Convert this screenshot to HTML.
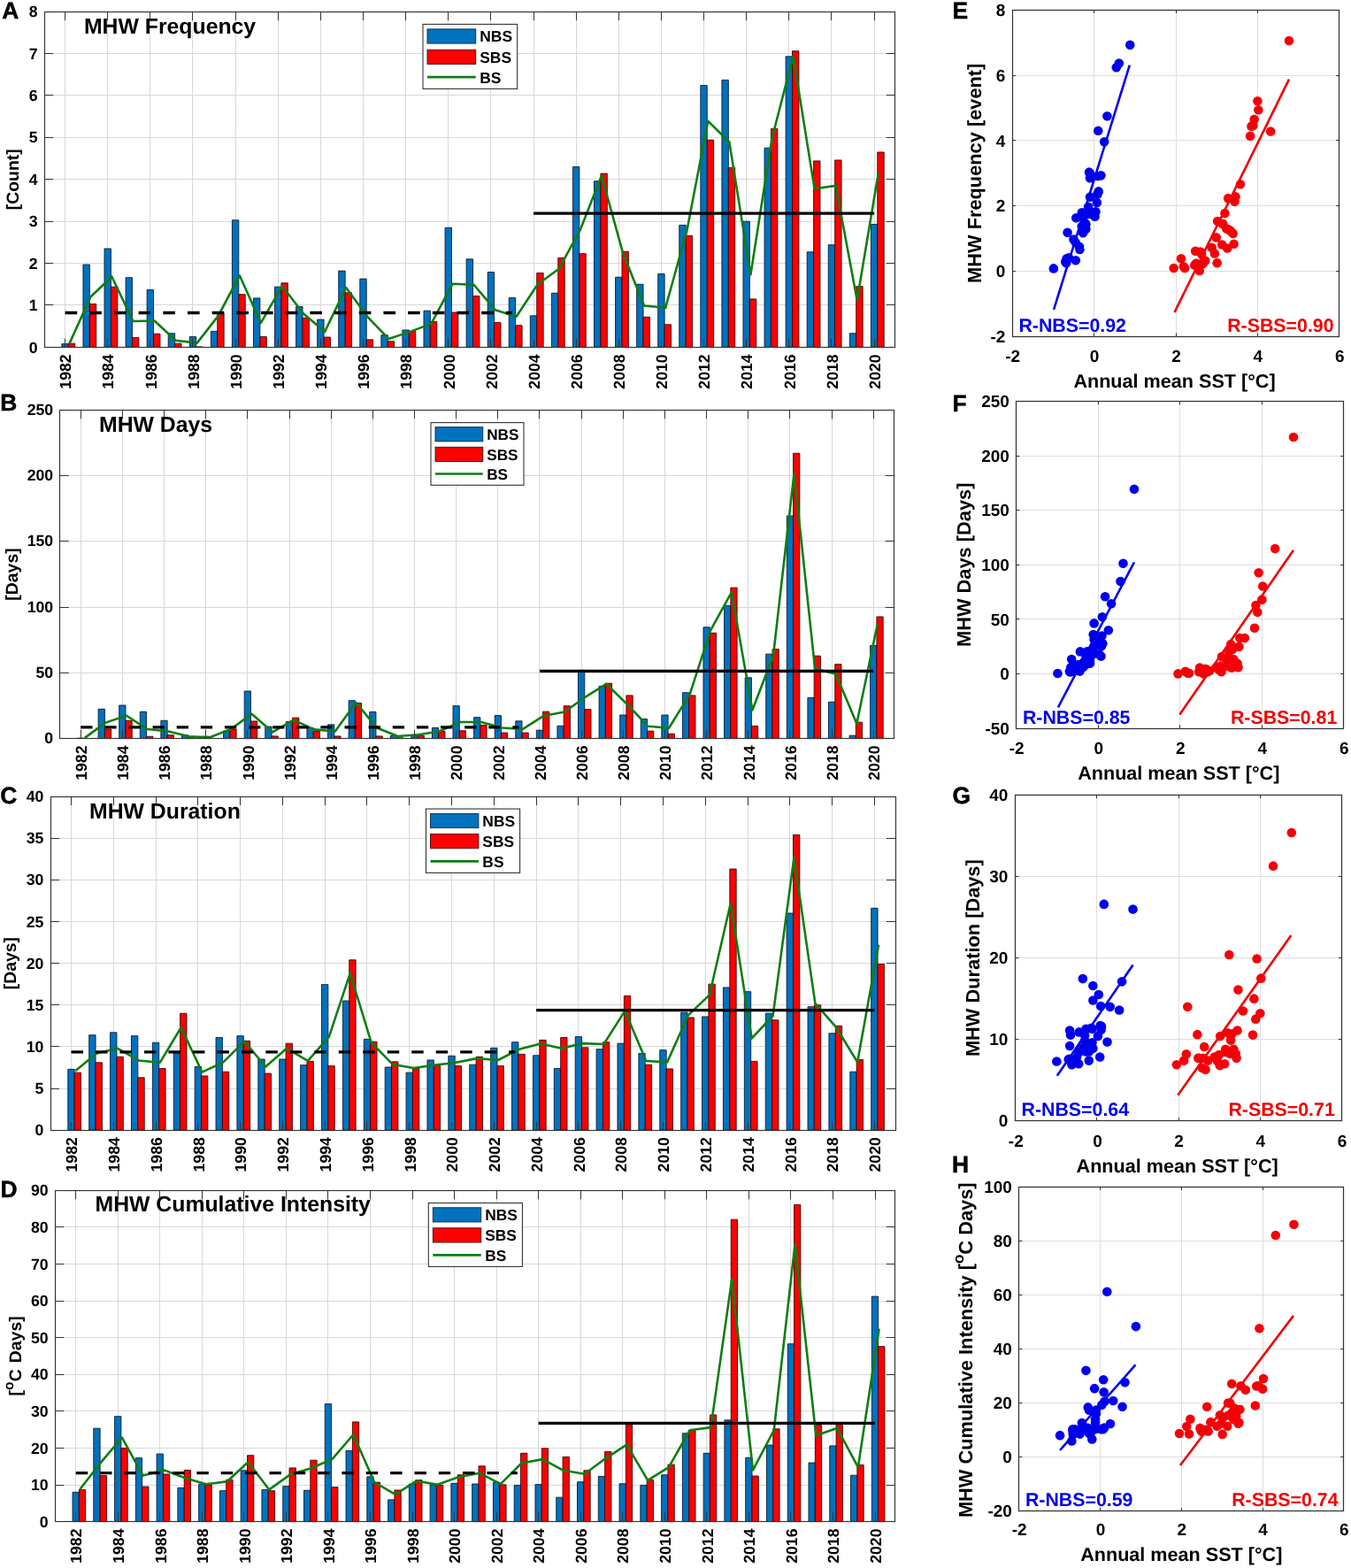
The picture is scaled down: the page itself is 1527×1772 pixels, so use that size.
<!DOCTYPE html>
<html lang="en">
<head>
<meta charset="utf-8">
<title>Marine heatwave metrics in the Bering Sea</title>
<style>
html,body{margin:0;padding:0;background:#fff;}
body{width:1527px;height:1772px;overflow:hidden;}
svg{display:block;font-family:'Liberation Sans', Arial, Helvetica, sans-serif;}
svg text{white-space:pre;}
</style>
</head>
<body>
<svg width="1527" height="1772" viewBox="0 0 1527 1772" shape-rendering="geometricPrecision" text-rendering="geometricPrecision">
<rect width="1527" height="1772" fill="#fff"/>
<g>
<rect x="50.2" y="13.1" width="961.6" height="379.3" fill="#fff"/>
<path d="M73.5 13.1V392.4M121.5 13.1V392.4M169.5 13.1V392.4M217.5 13.1V392.4M266.5 13.1V392.4M314.5 13.1V392.4M362.5 13.1V392.4M410.5 13.1V392.4M458.5 13.1V392.4M506.5 13.1V392.4M554.5 13.1V392.4M603.5 13.1V392.4M651.5 13.1V392.4M699.5 13.1V392.4M747.5 13.1V392.4M795.5 13.1V392.4M843.5 13.1V392.4M891.5 13.1V392.4M939.5 13.1V392.4M988.5 13.1V392.4M50.2 344.5H1011.8M50.2 297.5H1011.8M50.2 250.5H1011.8M50.2 202.5H1011.8M50.2 155.5H1011.8M50.2 107.5H1011.8M50.2 60.5H1011.8" stroke="#d8d8d8" stroke-width="1" fill="none"/>
<path d="M69.87 392.4V388.61H77.28V392.4ZM93.94 392.4V299H101.35V392.4ZM118 392.4V280.98H125.41V392.4ZM142.07 392.4V313.7H149.48V392.4ZM166.13 392.4V327.44H173.55V392.4ZM190.2 392.4V376.75H197.61V392.4ZM214.26 392.4V380.55H221.68V392.4ZM238.33 392.4V374.38H245.74V392.4ZM262.4 392.4V248.74H269.81V392.4ZM286.46 392.4V336.93H293.87V392.4ZM310.53 392.4V324.13H317.94V392.4ZM334.59 392.4V346.41H342.01V392.4ZM358.66 392.4V361.11H366.07V392.4ZM382.73 392.4V306.11H390.14V392.4ZM406.79 392.4V315.12H414.2V392.4ZM430.86 392.4V378.65H438.27V392.4ZM454.92 392.4V372.96H462.33V392.4ZM478.99 392.4V351.15H486.4V392.4ZM503.05 392.4V257.27H510.47V392.4ZM527.12 392.4V292.83H534.53V392.4ZM551.19 392.4V307.53H558.6V392.4ZM575.25 392.4V336.45H582.66V392.4ZM599.32 392.4V356.84H606.73V392.4ZM623.38 392.4V331.24H630.8V392.4ZM647.45 392.4V188.53H654.86V392.4ZM671.51 392.4V204.65H678.93V392.4ZM695.58 392.4V313.22H702.99V392.4ZM719.65 392.4V321.28H727.06V392.4ZM743.71 392.4V309.43H751.12V392.4ZM767.78 392.4V254.43H775.19V392.4ZM791.84 392.4V96.55H799.26V392.4ZM815.91 392.4V90.38H823.32V392.4ZM839.98 392.4V250.16H847.39V392.4ZM864.04 392.4V167.19H871.45V392.4ZM888.11 392.4V63.83H895.52V392.4ZM912.17 392.4V284.77H919.58V392.4ZM936.24 392.4V276.71H943.65V392.4ZM960.3 392.4V376.75H967.72V392.4ZM984.37 392.4V253.48H991.78V392.4Z" fill="#0072BD" stroke="#0b1a33" stroke-width="0.9" stroke-linejoin="miter"/>
<path d="M77.28 392.4V388.13H84.69V392.4ZM101.35 392.4V343.57H108.76V392.4ZM125.41 392.4V324.13H132.83V392.4ZM149.48 392.4V381.5H156.89V392.4ZM173.55 392.4V377.23H180.96V392.4ZM197.61 392.4V388.13H205.02V392.4ZM221.68 392.4V391.93H229.09V392.4ZM245.74 392.4V354H253.15V392.4ZM269.81 392.4V332.66H277.22V392.4ZM293.87 392.4V380.55H301.29V392.4ZM317.94 392.4V319.86H325.35V392.4ZM342.01 392.4V359.21H349.42V392.4ZM366.07 392.4V381.02H373.48V392.4ZM390.14 392.4V330.76H397.55V392.4ZM414.2 392.4V383.87H421.62V392.4ZM438.27 392.4V385.76H445.68V392.4ZM462.33 392.4V374.38H469.75V392.4ZM486.4 392.4V363.48H493.81V392.4ZM510.47 392.4V353.05H517.88V392.4ZM534.53 392.4V334.56H541.94V392.4ZM558.6 392.4V364.43H566.01V392.4ZM582.66 392.4V367.75H590.08V392.4ZM606.73 392.4V308.48H614.14V392.4ZM630.8 392.4V291.41H638.21V392.4ZM654.86 392.4V286.67H662.27V392.4ZM678.93 392.4V196.11H686.34V392.4ZM702.99 392.4V284.3H710.4V392.4ZM727.06 392.4V358.26H734.47V392.4ZM751.12 392.4V366.8H758.54V392.4ZM775.19 392.4V266.28H782.6V392.4ZM799.26 392.4V158.18H806.67V392.4ZM823.32 392.4V189.47H830.73V392.4ZM847.39 392.4V337.88H854.8V392.4ZM871.45 392.4V145.38H878.87V392.4ZM895.52 392.4V57.67H902.93V392.4ZM919.58 392.4V181.89H927V392.4ZM943.65 392.4V180.94H951.06V392.4ZM967.72 392.4V323.65H975.13V392.4ZM991.78 392.4V171.93H999.19V392.4Z" fill="#FF0000" stroke="#3a0505" stroke-width="0.9" stroke-linejoin="miter"/>
<polyline points="78.29,388.61 102.36,335.5 126.42,312.75 150.49,363 174.56,362.53 198.62,384.81 222.69,387.66 246.75,356.84 270.82,311.32 294.88,364.9 318.95,323.18 343.02,354.47 367.08,374.86 391.15,325.07 415.21,357.79 439.28,382.92 463.35,374.86 487.41,365.85 511.48,320.81 535.54,321.76 559.61,350.2 583.67,357.79 607.74,321.28 631.81,303.74 655.87,259.64 679.94,198.48 704,285.72 728.07,345.46 752.13,347.83 776.2,261.54 800.27,136.85 824.33,160.55 848.4,310.38 872.46,156.76 896.53,63.36 920.6,213.18 944.66,209.86 968.73,339.3 992.79,195.64" fill="none" stroke="#0E7E12" stroke-width="2.6" stroke-linejoin="round"/>
<path d="M73.6 353.52H578.98" stroke="#000" stroke-width="3.3" stroke-dasharray="13.6 14.08" fill="none"/>
<path d="M603.05 241.15H988.1" stroke="#000" stroke-width="3.3" fill="none"/>
<path d="M73.5 392.4v-10M73.5 13.1v10M121.5 392.4v-10M121.5 13.1v10M169.5 392.4v-10M169.5 13.1v10M217.5 392.4v-10M217.5 13.1v10M266.5 392.4v-10M266.5 13.1v10M314.5 392.4v-10M314.5 13.1v10M362.5 392.4v-10M362.5 13.1v10M410.5 392.4v-10M410.5 13.1v10M458.5 392.4v-10M458.5 13.1v10M506.5 392.4v-10M506.5 13.1v10M554.5 392.4v-10M554.5 13.1v10M603.5 392.4v-10M603.5 13.1v10M651.5 392.4v-10M651.5 13.1v10M699.5 392.4v-10M699.5 13.1v10M747.5 392.4v-10M747.5 13.1v10M795.5 392.4v-10M795.5 13.1v10M843.5 392.4v-10M843.5 13.1v10M891.5 392.4v-10M891.5 13.1v10M939.5 392.4v-10M939.5 13.1v10M988.5 392.4v-10M988.5 13.1v10M50.2 344.5h10M1011.8 344.5h-10M50.2 297.5h10M1011.8 297.5h-10M50.2 250.5h10M1011.8 250.5h-10M50.2 202.5h10M1011.8 202.5h-10M50.2 155.5h10M1011.8 155.5h-10M50.2 107.5h10M1011.8 107.5h-10M50.2 60.5h10M1011.8 60.5h-10" stroke="#333333" stroke-width="1" fill="none"/>
<rect x="50.5" y="13.5" width="961" height="379" fill="none" stroke="#333333" stroke-width="1.15"/>
<text x="42.6" y="398.54" font-size="17.7" font-weight="bold" text-anchor="end" fill="#000">0</text>
<text x="42.6" y="351.12" font-size="17.7" font-weight="bold" text-anchor="end" fill="#000">1</text>
<text x="42.6" y="303.71" font-size="17.7" font-weight="bold" text-anchor="end" fill="#000">2</text>
<text x="42.6" y="256.3" font-size="17.7" font-weight="bold" text-anchor="end" fill="#000">3</text>
<text x="42.6" y="208.89" font-size="17.7" font-weight="bold" text-anchor="end" fill="#000">4</text>
<text x="42.6" y="161.47" font-size="17.7" font-weight="bold" text-anchor="end" fill="#000">5</text>
<text x="42.6" y="114.06" font-size="17.7" font-weight="bold" text-anchor="end" fill="#000">6</text>
<text x="42.6" y="66.65" font-size="17.7" font-weight="bold" text-anchor="end" fill="#000">7</text>
<text x="42.6" y="19.24" font-size="17.7" font-weight="bold" text-anchor="end" fill="#000">8</text>
<text x="80.34" y="400.3" font-size="17.7" font-weight="bold" text-anchor="end" fill="#000" transform="rotate(-90 80.34 400.3)">1982</text>
<text x="128.47" y="400.3" font-size="17.7" font-weight="bold" text-anchor="end" fill="#000" transform="rotate(-90 128.47 400.3)">1984</text>
<text x="176.6" y="400.3" font-size="17.7" font-weight="bold" text-anchor="end" fill="#000" transform="rotate(-90 176.6 400.3)">1986</text>
<text x="224.73" y="400.3" font-size="17.7" font-weight="bold" text-anchor="end" fill="#000" transform="rotate(-90 224.73 400.3)">1988</text>
<text x="272.86" y="400.3" font-size="17.7" font-weight="bold" text-anchor="end" fill="#000" transform="rotate(-90 272.86 400.3)">1990</text>
<text x="320.99" y="400.3" font-size="17.7" font-weight="bold" text-anchor="end" fill="#000" transform="rotate(-90 320.99 400.3)">1992</text>
<text x="369.13" y="400.3" font-size="17.7" font-weight="bold" text-anchor="end" fill="#000" transform="rotate(-90 369.13 400.3)">1994</text>
<text x="417.26" y="400.3" font-size="17.7" font-weight="bold" text-anchor="end" fill="#000" transform="rotate(-90 417.26 400.3)">1996</text>
<text x="465.39" y="400.3" font-size="17.7" font-weight="bold" text-anchor="end" fill="#000" transform="rotate(-90 465.39 400.3)">1998</text>
<text x="513.52" y="400.3" font-size="17.7" font-weight="bold" text-anchor="end" fill="#000" transform="rotate(-90 513.52 400.3)">2000</text>
<text x="561.65" y="400.3" font-size="17.7" font-weight="bold" text-anchor="end" fill="#000" transform="rotate(-90 561.65 400.3)">2002</text>
<text x="609.78" y="400.3" font-size="17.7" font-weight="bold" text-anchor="end" fill="#000" transform="rotate(-90 609.78 400.3)">2004</text>
<text x="657.92" y="400.3" font-size="17.7" font-weight="bold" text-anchor="end" fill="#000" transform="rotate(-90 657.92 400.3)">2006</text>
<text x="706.05" y="400.3" font-size="17.7" font-weight="bold" text-anchor="end" fill="#000" transform="rotate(-90 706.05 400.3)">2008</text>
<text x="754.18" y="400.3" font-size="17.7" font-weight="bold" text-anchor="end" fill="#000" transform="rotate(-90 754.18 400.3)">2010</text>
<text x="802.31" y="400.3" font-size="17.7" font-weight="bold" text-anchor="end" fill="#000" transform="rotate(-90 802.31 400.3)">2012</text>
<text x="850.44" y="400.3" font-size="17.7" font-weight="bold" text-anchor="end" fill="#000" transform="rotate(-90 850.44 400.3)">2014</text>
<text x="898.57" y="400.3" font-size="17.7" font-weight="bold" text-anchor="end" fill="#000" transform="rotate(-90 898.57 400.3)">2016</text>
<text x="946.71" y="400.3" font-size="17.7" font-weight="bold" text-anchor="end" fill="#000" transform="rotate(-90 946.71 400.3)">2018</text>
<text x="994.84" y="400.3" font-size="17.7" font-weight="bold" text-anchor="end" fill="#000" transform="rotate(-90 994.84 400.3)">2020</text>
<text x="21.3" y="202.75" font-size="19.4" font-weight="bold" text-anchor="middle" fill="#000" transform="rotate(-90 21.3 202.75)">[Count]</text>
<text x="94.9" y="38.3" font-size="24.8" font-weight="bold" text-anchor="start" fill="#000">MHW Frequency</text>
<text x="2.2" y="20.9" font-size="26.4" font-weight="bold" text-anchor="start" fill="#000" stroke="#000" stroke-width="0.5" stroke-linejoin="round">A</text>
<rect x="478" y="27.4" width="106.7" height="73" fill="#fff" stroke="#333333" stroke-width="1.1"/>
<rect x="483" y="32.88" width="54.75" height="16.2" fill="#0072BD" stroke="#0a2a4a" stroke-width="0.9"/>
<text x="542.23" y="47.38" font-size="17.46" font-weight="bold" text-anchor="start" fill="#000">NBS</text>
<rect x="483" y="56.24" width="54.75" height="16.2" fill="#FF0000" stroke="#4a0808" stroke-width="0.9"/>
<text x="542.23" y="70.74" font-size="17.46" font-weight="bold" text-anchor="start" fill="#000">SBS</text>
<path d="M483 87.19H537.75" stroke="#0E7E12" stroke-width="2.7"/>
<text x="542.23" y="93.59" font-size="17.46" font-weight="bold" text-anchor="start" fill="#000">BS</text>
</g>
<g>
<rect x="67.8" y="463.4" width="942.9" height="371.2" fill="#fff"/>
<path d="M91.5 463.4V834.6M138.5 463.4V834.6M185.5 463.4V834.6M232.5 463.4V834.6M279.5 463.4V834.6M327.5 463.4V834.6M374.5 463.4V834.6M421.5 463.4V834.6M468.5 463.4V834.6M515.5 463.4V834.6M562.5 463.4V834.6M609.5 463.4V834.6M657.5 463.4V834.6M704.5 463.4V834.6M751.5 463.4V834.6M798.5 463.4V834.6M845.5 463.4V834.6M892.5 463.4V834.6M940.5 463.4V834.6M987.5 463.4V834.6M67.8 760.5H1010.7M67.8 686.5H1010.7M67.8 611.5H1010.7M67.8 537.5H1010.7" stroke="#d8d8d8" stroke-width="1" fill="none"/>
<path d="M87.54 834.6V834.15H94.81V834.6ZM111.13 834.6V801.34H118.39V834.6ZM134.71 834.6V797.03H141.97V834.6ZM158.29 834.6V804.31H165.55V834.6ZM181.87 834.6V814.26H189.13V834.6ZM205.45 834.6V830.74H212.72V834.6ZM229.03 834.6V832.22H236.3V834.6ZM252.62 834.6V825.84H259.88V834.6ZM276.2 834.6V781H283.46V834.6ZM299.78 834.6V821.09H307.04V834.6ZM323.36 834.6V815.59H330.62V834.6ZM346.94 834.6V822.42H354.21V834.6ZM370.52 834.6V818.86H377.79V834.6ZM394.11 834.6V791.69H401.37V834.6ZM417.69 834.6V804.46H424.95V834.6ZM441.27 834.6V831.33H448.53V834.6ZM464.85 834.6V831.33H472.11V834.6ZM488.43 834.6V822.42H495.69V834.6ZM512.01 834.6V797.63H519.28V834.6ZM535.59 834.6V810.69H542.86V834.6ZM559.18 834.6V808.62H566.44V834.6ZM582.76 834.6V814.85H590.02V834.6ZM606.34 834.6V825.25H613.6V834.6ZM629.92 834.6V820.35H637.18V834.6ZM653.5 834.6V757.39H660.77V834.6ZM677.08 834.6V775.36H684.35V834.6ZM700.67 834.6V808.02H707.93V834.6ZM724.25 834.6V812.48H731.51V834.6ZM747.83 834.6V808.02H755.09V834.6ZM771.41 834.6V782.78H778.67V834.6ZM794.99 834.6V708.84H802.26V834.6ZM818.57 834.6V684.34H825.84V834.6ZM842.16 834.6V765.85H849.42V834.6ZM865.74 834.6V739.13H873V834.6ZM889.32 834.6V583.07H896.58V834.6ZM912.9 834.6V788.42H920.16V834.6ZM936.48 834.6V793.32H943.74V834.6ZM960.06 834.6V831.18H967.33V834.6ZM983.64 834.6V729.48H990.91V834.6Z" fill="#0072BD" stroke="#0b1a33" stroke-width="0.9" stroke-linejoin="miter"/>
<path d="M118.39 834.6V824.06H125.65V834.6ZM141.97 834.6V814.26H149.23V834.6ZM165.55 834.6V832.22H172.82V834.6ZM189.13 834.6V830.74H196.4V834.6ZM212.72 834.6V833.86H219.98V834.6ZM259.88 834.6V824.06H267.14V834.6ZM283.46 834.6V815H290.72V834.6ZM307.04 834.6V831.93H314.31V834.6ZM330.62 834.6V811.14H337.89V834.6ZM354.21 834.6V826.43H361.47V834.6ZM377.79 834.6V831.93H385.05V834.6ZM401.37 834.6V794.51H408.63V834.6ZM424.95 834.6V831.93H432.21V834.6ZM448.53 834.6V833.86H455.79V834.6ZM472.11 834.6V831.33H479.38V834.6ZM495.69 834.6V826.43H502.96V834.6ZM519.28 834.6V825.84H526.54V834.6ZM542.86 834.6V819.46H550.12V834.6ZM566.44 834.6V828.07H573.7V834.6ZM590.02 834.6V828.07H597.28V834.6ZM613.6 834.6V804.16H620.87V834.6ZM637.18 834.6V797.78H644.45V834.6ZM660.77 834.6V801.64H668.03V834.6ZM684.35 834.6V772.24H691.61V834.6ZM707.93 834.6V785.9H715.19V834.6ZM731.51 834.6V826.14H738.77V834.6ZM755.09 834.6V829.25H762.36V834.6ZM778.67 834.6V785.9H785.94V834.6ZM802.26 834.6V715.37H809.52V834.6ZM825.84 834.6V664.14H833.1V834.6ZM849.42 834.6V820.49H856.68V834.6ZM873 834.6V733.63H880.26V834.6ZM896.58 834.6V512.25H903.84V834.6ZM920.16 834.6V741.21H927.43V834.6ZM943.74 834.6V750.71H951.01V834.6ZM967.33 834.6V816.19H974.59V834.6ZM990.91 834.6V696.96H998.17V834.6Z" fill="#FF0000" stroke="#3a0505" stroke-width="0.9" stroke-linejoin="miter"/>
<polyline points="95.8,833.86 119.38,816.63 142.96,808.76 166.54,824.06 190.12,826.43 213.71,832.22 237.29,833.26 260.87,824.06 284.45,806.83 308.03,827.32 331.61,813.66 355.2,824.35 378.78,826.43 402.36,794.06 425.94,822.42 449.52,831.93 473.1,830.29 496.69,826.43 520.27,816.04 543.85,816.04 567.43,822.57 591.01,823.91 614.59,808.91 638.17,804.46 661.76,787.53 685.34,772.83 708.92,796 732.5,820.79 756.08,822.72 779.66,784.56 803.25,712.1 826.83,669.34 850.41,802.53 873.99,741.06 897.57,534.82 921.15,755.46 944.74,761.84 968.32,817.67 991.9,704.83" fill="none" stroke="#0E7E12" stroke-width="2.6" stroke-linejoin="round"/>
<path d="M91.2 821.83H586.41" stroke="#000" stroke-width="3.3" stroke-dasharray="13.32 13.8" fill="none"/>
<path d="M609.99 758.28H987.3" stroke="#000" stroke-width="3.3" fill="none"/>
<path d="M91.5 834.6v-10M91.5 463.4v10M138.5 834.6v-10M138.5 463.4v10M185.5 834.6v-10M185.5 463.4v10M232.5 834.6v-10M232.5 463.4v10M279.5 834.6v-10M279.5 463.4v10M327.5 834.6v-10M327.5 463.4v10M374.5 834.6v-10M374.5 463.4v10M421.5 834.6v-10M421.5 463.4v10M468.5 834.6v-10M468.5 463.4v10M515.5 834.6v-10M515.5 463.4v10M562.5 834.6v-10M562.5 463.4v10M609.5 834.6v-10M609.5 463.4v10M657.5 834.6v-10M657.5 463.4v10M704.5 834.6v-10M704.5 463.4v10M751.5 834.6v-10M751.5 463.4v10M798.5 834.6v-10M798.5 463.4v10M845.5 834.6v-10M845.5 463.4v10M892.5 834.6v-10M892.5 463.4v10M940.5 834.6v-10M940.5 463.4v10M987.5 834.6v-10M987.5 463.4v10M67.8 760.5h10M1010.7 760.5h-10M67.8 686.5h10M1010.7 686.5h-10M67.8 611.5h10M1010.7 611.5h-10M67.8 537.5h10M1010.7 537.5h-10" stroke="#333333" stroke-width="1" fill="none"/>
<rect x="67.5" y="463.5" width="943" height="371" fill="none" stroke="#333333" stroke-width="1.15"/>
<text x="60.2" y="840.14" font-size="17.7" font-weight="bold" text-anchor="end" fill="#000">0</text>
<text x="60.2" y="765.9" font-size="17.7" font-weight="bold" text-anchor="end" fill="#000">50</text>
<text x="60.2" y="691.66" font-size="17.7" font-weight="bold" text-anchor="end" fill="#000">100</text>
<text x="60.2" y="617.42" font-size="17.7" font-weight="bold" text-anchor="end" fill="#000">150</text>
<text x="60.2" y="543.18" font-size="17.7" font-weight="bold" text-anchor="end" fill="#000">200</text>
<text x="60.2" y="468.94" font-size="17.7" font-weight="bold" text-anchor="end" fill="#000">250</text>
<text x="97.94" y="842.5" font-size="17.7" font-weight="bold" text-anchor="end" fill="#000" transform="rotate(-90 97.94 842.5)">1982</text>
<text x="145.1" y="842.5" font-size="17.7" font-weight="bold" text-anchor="end" fill="#000" transform="rotate(-90 145.1 842.5)">1984</text>
<text x="192.26" y="842.5" font-size="17.7" font-weight="bold" text-anchor="end" fill="#000" transform="rotate(-90 192.26 842.5)">1986</text>
<text x="239.43" y="842.5" font-size="17.7" font-weight="bold" text-anchor="end" fill="#000" transform="rotate(-90 239.43 842.5)">1988</text>
<text x="286.59" y="842.5" font-size="17.7" font-weight="bold" text-anchor="end" fill="#000" transform="rotate(-90 286.59 842.5)">1990</text>
<text x="333.75" y="842.5" font-size="17.7" font-weight="bold" text-anchor="end" fill="#000" transform="rotate(-90 333.75 842.5)">1992</text>
<text x="380.92" y="842.5" font-size="17.7" font-weight="bold" text-anchor="end" fill="#000" transform="rotate(-90 380.92 842.5)">1994</text>
<text x="428.08" y="842.5" font-size="17.7" font-weight="bold" text-anchor="end" fill="#000" transform="rotate(-90 428.08 842.5)">1996</text>
<text x="475.24" y="842.5" font-size="17.7" font-weight="bold" text-anchor="end" fill="#000" transform="rotate(-90 475.24 842.5)">1998</text>
<text x="522.41" y="842.5" font-size="17.7" font-weight="bold" text-anchor="end" fill="#000" transform="rotate(-90 522.41 842.5)">2000</text>
<text x="569.57" y="842.5" font-size="17.7" font-weight="bold" text-anchor="end" fill="#000" transform="rotate(-90 569.57 842.5)">2002</text>
<text x="616.73" y="842.5" font-size="17.7" font-weight="bold" text-anchor="end" fill="#000" transform="rotate(-90 616.73 842.5)">2004</text>
<text x="663.89" y="842.5" font-size="17.7" font-weight="bold" text-anchor="end" fill="#000" transform="rotate(-90 663.89 842.5)">2006</text>
<text x="711.06" y="842.5" font-size="17.7" font-weight="bold" text-anchor="end" fill="#000" transform="rotate(-90 711.06 842.5)">2008</text>
<text x="758.22" y="842.5" font-size="17.7" font-weight="bold" text-anchor="end" fill="#000" transform="rotate(-90 758.22 842.5)">2010</text>
<text x="805.38" y="842.5" font-size="17.7" font-weight="bold" text-anchor="end" fill="#000" transform="rotate(-90 805.38 842.5)">2012</text>
<text x="852.55" y="842.5" font-size="17.7" font-weight="bold" text-anchor="end" fill="#000" transform="rotate(-90 852.55 842.5)">2014</text>
<text x="899.71" y="842.5" font-size="17.7" font-weight="bold" text-anchor="end" fill="#000" transform="rotate(-90 899.71 842.5)">2016</text>
<text x="946.87" y="842.5" font-size="17.7" font-weight="bold" text-anchor="end" fill="#000" transform="rotate(-90 946.87 842.5)">2018</text>
<text x="994.04" y="842.5" font-size="17.7" font-weight="bold" text-anchor="end" fill="#000" transform="rotate(-90 994.04 842.5)">2020</text>
<text x="19.8" y="649" font-size="19.4" font-weight="bold" text-anchor="middle" fill="#000" transform="rotate(-90 19.8 649)">[Days]</text>
<text x="112" y="488" font-size="24.8" font-weight="bold" text-anchor="start" fill="#000">MHW Days</text>
<text x="0.2" y="463.6" font-size="26.4" font-weight="bold" text-anchor="start" fill="#000" stroke="#000" stroke-width="0.5" stroke-linejoin="round">B</text>
<rect x="487" y="477.6" width="105" height="70.7" fill="#fff" stroke="#333333" stroke-width="1.1"/>
<rect x="492" y="482.65" width="53.8" height="16.2" fill="#0072BD" stroke="#0a2a4a" stroke-width="0.9"/>
<text x="550.21" y="497.15" font-size="17.19" font-weight="bold" text-anchor="start" fill="#000">NBS</text>
<rect x="492" y="505.27" width="53.8" height="16.2" fill="#FF0000" stroke="#4a0808" stroke-width="0.9"/>
<text x="550.21" y="519.77" font-size="17.19" font-weight="bold" text-anchor="start" fill="#000">SBS</text>
<path d="M492 535.5H545.8" stroke="#0E7E12" stroke-width="2.7"/>
<text x="550.21" y="541.9" font-size="17.19" font-weight="bold" text-anchor="start" fill="#000">BS</text>
</g>
<g>
<rect x="57" y="900" width="955" height="377.2" fill="#fff"/>
<path d="M80.5 900V1277.2M128.5 900V1277.2M176.5 900V1277.2M223.5 900V1277.2M271.5 900V1277.2M319.5 900V1277.2M367.5 900V1277.2M414.5 900V1277.2M462.5 900V1277.2M510.5 900V1277.2M558.5 900V1277.2M606.5 900V1277.2M653.5 900V1277.2M701.5 900V1277.2M749.5 900V1277.2M797.5 900V1277.2M845.5 900V1277.2M892.5 900V1277.2M940.5 900V1277.2M988.5 900V1277.2M57 1230.5H1012M57 1182.5H1012M57 1135.5H1012M57 1088.5H1012M57 1041.5H1012M57 994.5H1012M57 947.5H1012" stroke="#d8d8d8" stroke-width="1" fill="none"/>
<path d="M76.8 1277.2V1208.36H84.16V1277.2ZM100.69 1277.2V1169.7H108.05V1277.2ZM124.58 1277.2V1166.87H131.94V1277.2ZM148.47 1277.2V1170.64H155.83V1277.2ZM172.37 1277.2V1178.18H179.72V1277.2ZM196.26 1277.2V1190.44H203.62V1277.2ZM220.15 1277.2V1205.53H227.51V1277.2ZM244.04 1277.2V1172.53H251.4V1277.2ZM267.93 1277.2V1170.64H275.29V1277.2ZM291.83 1277.2V1197.05H299.18V1277.2ZM315.72 1277.2V1197.05H323.08V1277.2ZM339.61 1277.2V1203.65H346.97V1277.2ZM363.5 1277.2V1112.65H370.86V1277.2ZM387.39 1277.2V1131.04H394.75V1277.2ZM411.29 1277.2V1174.41H418.64V1277.2ZM435.18 1277.2V1206H442.54V1277.2ZM459.07 1277.2V1212.13H466.43V1277.2ZM482.96 1277.2V1197.99H490.32V1277.2ZM506.85 1277.2V1193.27H514.21V1277.2ZM530.75 1277.2V1203.17H538.11V1277.2ZM554.64 1277.2V1184.31H562V1277.2ZM578.53 1277.2V1177.71H585.89V1277.2ZM602.42 1277.2V1192.8H609.78V1277.2ZM626.32 1277.2V1207.42H633.67V1277.2ZM650.21 1277.2V1171.58H657.57V1277.2ZM674.1 1277.2V1185.73H681.46V1277.2ZM697.99 1277.2V1179.13H705.35V1277.2ZM721.88 1277.2V1190.44H729.24V1277.2ZM745.78 1277.2V1186.67H753.13V1277.2ZM769.67 1277.2V1144.24H777.03V1277.2ZM793.56 1277.2V1148.95H800.92V1277.2ZM817.45 1277.2V1115.95H824.81V1277.2ZM841.34 1277.2V1120.66H848.7V1277.2ZM865.24 1277.2V1145.18H872.59V1277.2ZM889.13 1277.2V1032.02H896.49V1277.2ZM913.02 1277.2V1137.64H920.38V1277.2ZM936.91 1277.2V1167.81H944.27V1277.2ZM960.8 1277.2V1211.19H968.16V1277.2ZM984.7 1277.2V1026.36H992.06V1277.2Z" fill="#0072BD" stroke="#0b1a33" stroke-width="0.9" stroke-linejoin="miter"/>
<path d="M84.16 1277.2V1212.13H91.51V1277.2ZM108.05 1277.2V1200.82H115.41V1277.2ZM131.94 1277.2V1194.22H139.3V1277.2ZM155.83 1277.2V1217.79H163.19V1277.2ZM179.72 1277.2V1207.42H187.08V1277.2ZM203.62 1277.2V1145.18H210.97V1277.2ZM227.51 1277.2V1215.9H234.87V1277.2ZM251.4 1277.2V1211.19H258.76V1277.2ZM275.29 1277.2V1176.3H282.65V1277.2ZM299.18 1277.2V1213.08H306.54V1277.2ZM323.08 1277.2V1179.13H330.44V1277.2ZM346.97 1277.2V1199.4H354.33V1277.2ZM370.86 1277.2V1204.59H378.22V1277.2ZM394.75 1277.2V1084.83H402.11V1277.2ZM418.64 1277.2V1177.24H426V1277.2ZM442.54 1277.2V1199.87H449.9V1277.2ZM466.43 1277.2V1207.42H473.79V1277.2ZM490.32 1277.2V1204.59H497.68V1277.2ZM514.21 1277.2V1204.59H521.57V1277.2ZM538.11 1277.2V1194.22H545.46V1277.2ZM562 1277.2V1204.59H569.36V1277.2ZM585.89 1277.2V1191.39H593.25V1277.2ZM609.78 1277.2V1175.36H617.14V1277.2ZM633.67 1277.2V1172.53H641.03V1277.2ZM657.57 1277.2V1183.84H664.92V1277.2ZM681.46 1277.2V1177.71H688.82V1277.2ZM705.35 1277.2V1125.38H712.71V1277.2ZM729.24 1277.2V1203.17H736.6V1277.2ZM753.13 1277.2V1207.89H760.49V1277.2ZM777.03 1277.2V1149.89H784.39V1277.2ZM800.92 1277.2V1112.17H808.28V1277.2ZM824.81 1277.2V982.04H832.17V1277.2ZM848.7 1277.2V1199.4H856.06V1277.2ZM872.59 1277.2V1152.72H879.95V1277.2ZM896.49 1277.2V943.38H903.85V1277.2ZM920.38 1277.2V1135.75H927.74V1277.2ZM944.27 1277.2V1159.33H951.63V1277.2ZM968.16 1277.2V1197.52H975.52V1277.2ZM992.06 1277.2V1089.54H999.41V1277.2Z" fill="#FF0000" stroke="#3a0505" stroke-width="0.9" stroke-linejoin="miter"/>
<polyline points="85.16,1210.25 109.05,1190.44 132.94,1184.79 156.84,1198.46 180.73,1200.82 204.62,1161.21 228.51,1211.66 252.4,1200.35 276.3,1176.77 300.19,1205.53 324.08,1184.79 347.97,1198.93 371.86,1171.58 395.76,1099.92 419.65,1178.18 443.54,1202.7 467.43,1206.95 491.32,1203.65 515.22,1200.82 539.11,1196.1 563,1197.99 586.89,1185.73 610.79,1179.6 634.68,1184.79 658.57,1179.13 682.46,1180.07 706.35,1142.35 730.25,1198.93 754.14,1200.35 778.03,1147.07 801.92,1124.43 825.81,1020.7 849.71,1173.47 873.6,1148.01 897.49,968.84 921.38,1133.86 945.27,1161.21 969.17,1200.35 993.06,1067.85" fill="none" stroke="#0E7E12" stroke-width="2.6" stroke-linejoin="round"/>
<path d="M80.5 1188.94H582.23" stroke="#000" stroke-width="3.3" stroke-dasharray="13.5 13.98" fill="none"/>
<path d="M606.13 1141.6H988.4" stroke="#000" stroke-width="3.3" fill="none"/>
<path d="M80.5 1277.2v-10M80.5 900v10M128.5 1277.2v-10M128.5 900v10M176.5 1277.2v-10M176.5 900v10M223.5 1277.2v-10M223.5 900v10M271.5 1277.2v-10M271.5 900v10M319.5 1277.2v-10M319.5 900v10M367.5 1277.2v-10M367.5 900v10M414.5 1277.2v-10M414.5 900v10M462.5 1277.2v-10M462.5 900v10M510.5 1277.2v-10M510.5 900v10M558.5 1277.2v-10M558.5 900v10M606.5 1277.2v-10M606.5 900v10M653.5 1277.2v-10M653.5 900v10M701.5 1277.2v-10M701.5 900v10M749.5 1277.2v-10M749.5 900v10M797.5 1277.2v-10M797.5 900v10M845.5 1277.2v-10M845.5 900v10M892.5 1277.2v-10M892.5 900v10M940.5 1277.2v-10M940.5 900v10M988.5 1277.2v-10M988.5 900v10M57 1230.5h10M1012 1230.5h-10M57 1182.5h10M1012 1182.5h-10M57 1135.5h10M1012 1135.5h-10M57 1088.5h10M1012 1088.5h-10M57 1041.5h10M1012 1041.5h-10M57 994.5h10M1012 994.5h-10M57 947.5h10M1012 947.5h-10" stroke="#333333" stroke-width="1" fill="none"/>
<rect x="57.5" y="900.5" width="955" height="377" fill="none" stroke="#333333" stroke-width="1.15"/>
<text x="49.4" y="1283.34" font-size="17.7" font-weight="bold" text-anchor="end" fill="#000">0</text>
<text x="49.4" y="1236.19" font-size="17.7" font-weight="bold" text-anchor="end" fill="#000">5</text>
<text x="49.4" y="1189.04" font-size="17.7" font-weight="bold" text-anchor="end" fill="#000">10</text>
<text x="49.4" y="1141.89" font-size="17.7" font-weight="bold" text-anchor="end" fill="#000">15</text>
<text x="49.4" y="1094.74" font-size="17.7" font-weight="bold" text-anchor="end" fill="#000">20</text>
<text x="49.4" y="1047.59" font-size="17.7" font-weight="bold" text-anchor="end" fill="#000">25</text>
<text x="49.4" y="1000.44" font-size="17.7" font-weight="bold" text-anchor="end" fill="#000">30</text>
<text x="49.4" y="953.29" font-size="17.7" font-weight="bold" text-anchor="end" fill="#000">35</text>
<text x="49.4" y="906.14" font-size="17.7" font-weight="bold" text-anchor="end" fill="#000">40</text>
<text x="87.24" y="1285.1" font-size="17.7" font-weight="bold" text-anchor="end" fill="#000" transform="rotate(-90 87.24 1285.1)">1982</text>
<text x="135.02" y="1285.1" font-size="17.7" font-weight="bold" text-anchor="end" fill="#000" transform="rotate(-90 135.02 1285.1)">1984</text>
<text x="182.81" y="1285.1" font-size="17.7" font-weight="bold" text-anchor="end" fill="#000" transform="rotate(-90 182.81 1285.1)">1986</text>
<text x="230.59" y="1285.1" font-size="17.7" font-weight="bold" text-anchor="end" fill="#000" transform="rotate(-90 230.59 1285.1)">1988</text>
<text x="278.37" y="1285.1" font-size="17.7" font-weight="bold" text-anchor="end" fill="#000" transform="rotate(-90 278.37 1285.1)">1990</text>
<text x="326.16" y="1285.1" font-size="17.7" font-weight="bold" text-anchor="end" fill="#000" transform="rotate(-90 326.16 1285.1)">1992</text>
<text x="373.94" y="1285.1" font-size="17.7" font-weight="bold" text-anchor="end" fill="#000" transform="rotate(-90 373.94 1285.1)">1994</text>
<text x="421.73" y="1285.1" font-size="17.7" font-weight="bold" text-anchor="end" fill="#000" transform="rotate(-90 421.73 1285.1)">1996</text>
<text x="469.51" y="1285.1" font-size="17.7" font-weight="bold" text-anchor="end" fill="#000" transform="rotate(-90 469.51 1285.1)">1998</text>
<text x="517.29" y="1285.1" font-size="17.7" font-weight="bold" text-anchor="end" fill="#000" transform="rotate(-90 517.29 1285.1)">2000</text>
<text x="565.08" y="1285.1" font-size="17.7" font-weight="bold" text-anchor="end" fill="#000" transform="rotate(-90 565.08 1285.1)">2002</text>
<text x="612.86" y="1285.1" font-size="17.7" font-weight="bold" text-anchor="end" fill="#000" transform="rotate(-90 612.86 1285.1)">2004</text>
<text x="660.65" y="1285.1" font-size="17.7" font-weight="bold" text-anchor="end" fill="#000" transform="rotate(-90 660.65 1285.1)">2006</text>
<text x="708.43" y="1285.1" font-size="17.7" font-weight="bold" text-anchor="end" fill="#000" transform="rotate(-90 708.43 1285.1)">2008</text>
<text x="756.22" y="1285.1" font-size="17.7" font-weight="bold" text-anchor="end" fill="#000" transform="rotate(-90 756.22 1285.1)">2010</text>
<text x="804" y="1285.1" font-size="17.7" font-weight="bold" text-anchor="end" fill="#000" transform="rotate(-90 804 1285.1)">2012</text>
<text x="851.78" y="1285.1" font-size="17.7" font-weight="bold" text-anchor="end" fill="#000" transform="rotate(-90 851.78 1285.1)">2014</text>
<text x="899.57" y="1285.1" font-size="17.7" font-weight="bold" text-anchor="end" fill="#000" transform="rotate(-90 899.57 1285.1)">2016</text>
<text x="947.35" y="1285.1" font-size="17.7" font-weight="bold" text-anchor="end" fill="#000" transform="rotate(-90 947.35 1285.1)">2018</text>
<text x="995.14" y="1285.1" font-size="17.7" font-weight="bold" text-anchor="end" fill="#000" transform="rotate(-90 995.14 1285.1)">2020</text>
<text x="18.5" y="1088.6" font-size="19.4" font-weight="bold" text-anchor="middle" fill="#000" transform="rotate(-90 18.5 1088.6)">[Days]</text>
<text x="101" y="925.2" font-size="24.8" font-weight="bold" text-anchor="start" fill="#000">MHW Duration</text>
<text x="0.2" y="908" font-size="26.4" font-weight="bold" text-anchor="start" fill="#000" stroke="#000" stroke-width="0.5" stroke-linejoin="round">C</text>
<rect x="481.5" y="914.1" width="106.1" height="72.3" fill="#fff" stroke="#333333" stroke-width="1.1"/>
<rect x="486.5" y="919.45" width="54.42" height="16.2" fill="#0072BD" stroke="#0a2a4a" stroke-width="0.9"/>
<text x="545.37" y="933.95" font-size="17.37" font-weight="bold" text-anchor="start" fill="#000">NBS</text>
<rect x="486.5" y="942.58" width="54.42" height="16.2" fill="#FF0000" stroke="#4a0808" stroke-width="0.9"/>
<text x="545.37" y="957.08" font-size="17.37" font-weight="bold" text-anchor="start" fill="#000">SBS</text>
<path d="M486.5 973.31H540.92" stroke="#0E7E12" stroke-width="2.7"/>
<text x="545.37" y="979.71" font-size="17.37" font-weight="bold" text-anchor="start" fill="#000">BS</text>
</g>
<g>
<rect x="62.3" y="1345.3" width="949.5" height="374.3" fill="#fff"/>
<path d="M85.5 1345.3V1719.6M133.5 1345.3V1719.6M180.5 1345.3V1719.6M228.5 1345.3V1719.6M275.5 1345.3V1719.6M323.5 1345.3V1719.6M370.5 1345.3V1719.6M418.5 1345.3V1719.6M466.5 1345.3V1719.6M513.5 1345.3V1719.6M561.5 1345.3V1719.6M608.5 1345.3V1719.6M656.5 1345.3V1719.6M703.5 1345.3V1719.6M751.5 1345.3V1719.6M798.5 1345.3V1719.6M846.5 1345.3V1719.6M893.5 1345.3V1719.6M941.5 1345.3V1719.6M989.5 1345.3V1719.6M62.3 1678.5H1011.8M62.3 1636.5H1011.8M62.3 1594.5H1011.8M62.3 1553.5H1011.8M62.3 1511.5H1011.8M62.3 1470.5H1011.8M62.3 1428.5H1011.8M62.3 1386.5H1011.8" stroke="#d8d8d8" stroke-width="1" fill="none"/>
<path d="M82.02 1719.6V1686.33H89.34V1719.6ZM105.79 1719.6V1614.17H113.11V1719.6ZM129.56 1719.6V1600.66H136.88V1719.6ZM153.33 1719.6V1647.65H160.65V1719.6ZM177.1 1719.6V1643.08H184.42V1719.6ZM200.87 1719.6V1681.34H208.19V1719.6ZM224.64 1719.6V1677.18H231.96V1719.6ZM248.41 1719.6V1684.67H255.73V1719.6ZM272.18 1719.6V1661.79H279.51V1719.6ZM295.95 1719.6V1683.42H303.28V1719.6ZM319.73 1719.6V1679.67H327.05V1719.6ZM343.5 1719.6V1684.25H350.82V1719.6ZM367.27 1719.6V1586.52H374.59V1719.6ZM391.04 1719.6V1639.33H398.36V1719.6ZM414.81 1719.6V1668.86H422.13V1719.6ZM438.58 1719.6V1694.85H445.9V1719.6ZM462.35 1719.6V1677.18H469.67V1719.6ZM486.12 1719.6V1677.8H493.44V1719.6ZM509.89 1719.6V1676.35H517.22V1719.6ZM533.67 1719.6V1676.97H540.99V1719.6ZM557.44 1719.6V1675.1H564.76V1719.6ZM581.21 1719.6V1678.43H588.53V1719.6ZM604.98 1719.6V1677.6H612.3V1719.6ZM628.75 1719.6V1692.15H636.07V1719.6ZM652.52 1719.6V1674.68H659.84V1719.6ZM676.29 1719.6V1668.45H683.61V1719.6ZM700.06 1719.6V1676.76H707.38V1719.6ZM723.83 1719.6V1678.43H731.16V1719.6ZM747.6 1719.6V1666.78H754.93V1719.6ZM771.38 1719.6V1619.79H778.7V1719.6ZM795.15 1719.6V1642.24H802.47V1719.6ZM818.92 1719.6V1604.81H826.24V1719.6ZM842.69 1719.6V1647.24H850.01V1719.6ZM866.46 1719.6V1633.1H873.78V1719.6ZM890.23 1719.6V1518.73H897.55V1719.6ZM914 1719.6V1653.06H921.32V1719.6ZM937.77 1719.6V1633.93H945.09V1719.6ZM961.54 1719.6V1667.2H968.87V1719.6ZM985.32 1719.6V1465.08H992.64V1719.6Z" fill="#0072BD" stroke="#0b1a33" stroke-width="0.9" stroke-linejoin="miter"/>
<path d="M89.34 1719.6V1683.42H96.66V1719.6ZM113.11 1719.6V1667.61H120.43V1719.6ZM136.88 1719.6V1636.42H144.2V1719.6ZM160.65 1719.6V1680.09H167.97V1719.6ZM184.42 1719.6V1665.95H191.74V1719.6ZM208.19 1719.6V1661.38H215.51V1719.6ZM231.96 1719.6V1678.01H239.28V1719.6ZM255.73 1719.6V1672.19H263.06V1719.6ZM279.51 1719.6V1644.74H286.83V1719.6ZM303.28 1719.6V1684.67H310.6V1719.6ZM327.05 1719.6V1658.88H334.37V1719.6ZM350.82 1719.6V1650.15H358.14V1719.6ZM374.59 1719.6V1680.51H381.91V1719.6ZM398.36 1719.6V1606.89H405.68V1719.6ZM422.13 1719.6V1675.1H429.45V1719.6ZM445.9 1719.6V1684.04H453.22V1719.6ZM469.67 1719.6V1672.6H477V1719.6ZM493.44 1719.6V1678.22H500.77V1719.6ZM517.22 1719.6V1666.78H524.54V1719.6ZM540.99 1719.6V1656.8H548.31V1719.6ZM564.76 1719.6V1677.8H572.08V1719.6ZM588.53 1719.6V1642.24H595.85V1719.6ZM612.3 1719.6V1636.84H619.62V1719.6ZM636.07 1719.6V1646.4H643.39V1719.6ZM659.84 1719.6V1661.79H667.16V1719.6ZM683.61 1719.6V1640.58H690.93V1719.6ZM707.38 1719.6V1610.22H714.71V1719.6ZM731.16 1719.6V1672.19H738.48V1719.6ZM754.93 1719.6V1655.14H762.25V1719.6ZM778.7 1719.6V1616.25H786.02V1719.6ZM802.47 1719.6V1598.99H809.79V1719.6ZM826.24 1719.6V1378.16H833.56V1719.6ZM850.01 1719.6V1668.03H857.33V1719.6ZM873.78 1719.6V1614.8H881.1V1719.6ZM897.55 1719.6V1361.52H904.87V1719.6ZM921.32 1719.6V1610.64H928.65V1719.6ZM945.09 1719.6V1609.81H952.42V1719.6ZM968.87 1719.6V1655.55H976.19V1719.6ZM992.64 1719.6V1521.64H999.96V1719.6Z" fill="#FF0000" stroke="#3a0505" stroke-width="0.9" stroke-linejoin="miter"/>
<polyline points="90.34,1683 114.11,1652.64 137.88,1624.57 161.65,1667.61 185.42,1661.38 209.19,1670.32 232.96,1677.18 256.73,1674.27 280.5,1652.23 304.27,1683.42 328.05,1666.37 351.82,1659.3 375.59,1648.9 399.36,1621.24 423.13,1675.1 446.9,1688.82 470.67,1673.64 494.44,1677.8 518.21,1669.28 541.99,1664.7 565.76,1677.18 589.53,1653.47 613.3,1649.11 637.07,1661.79 660.84,1665.74 684.61,1648.07 708.38,1632.68 732.15,1672.81 755.92,1658.05 779.7,1616.25 803.47,1613.13 827.24,1445.53 851.01,1661.38 874.78,1616.25 898.55,1406.02 922.32,1622.28 946.09,1613.96 969.86,1658.05 993.64,1501.67" fill="none" stroke="#0E7E12" stroke-width="2.6" stroke-linejoin="round"/>
<path d="M85.7 1664.7H584.89" stroke="#000" stroke-width="3.3" stroke-dasharray="13.43 13.91" fill="none"/>
<path d="M608.66 1608.35H989" stroke="#000" stroke-width="3.3" fill="none"/>
<path d="M85.5 1719.6v-10M85.5 1345.3v10M133.5 1719.6v-10M133.5 1345.3v10M180.5 1719.6v-10M180.5 1345.3v10M228.5 1719.6v-10M228.5 1345.3v10M275.5 1719.6v-10M275.5 1345.3v10M323.5 1719.6v-10M323.5 1345.3v10M370.5 1719.6v-10M370.5 1345.3v10M418.5 1719.6v-10M418.5 1345.3v10M466.5 1719.6v-10M466.5 1345.3v10M513.5 1719.6v-10M513.5 1345.3v10M561.5 1719.6v-10M561.5 1345.3v10M608.5 1719.6v-10M608.5 1345.3v10M656.5 1719.6v-10M656.5 1345.3v10M703.5 1719.6v-10M703.5 1345.3v10M751.5 1719.6v-10M751.5 1345.3v10M798.5 1719.6v-10M798.5 1345.3v10M846.5 1719.6v-10M846.5 1345.3v10M893.5 1719.6v-10M893.5 1345.3v10M941.5 1719.6v-10M941.5 1345.3v10M989.5 1719.6v-10M989.5 1345.3v10M62.3 1678.5h10M1011.8 1678.5h-10M62.3 1636.5h10M1011.8 1636.5h-10M62.3 1594.5h10M1011.8 1594.5h-10M62.3 1553.5h10M1011.8 1553.5h-10M62.3 1511.5h10M1011.8 1511.5h-10M62.3 1470.5h10M1011.8 1470.5h-10M62.3 1428.5h10M1011.8 1428.5h-10M62.3 1386.5h10M1011.8 1386.5h-10" stroke="#333333" stroke-width="1" fill="none"/>
<rect x="62.5" y="1345.5" width="949" height="374" fill="none" stroke="#333333" stroke-width="1.15"/>
<text x="54.7" y="1725.74" font-size="17.7" font-weight="bold" text-anchor="end" fill="#000">0</text>
<text x="54.7" y="1684.15" font-size="17.7" font-weight="bold" text-anchor="end" fill="#000">10</text>
<text x="54.7" y="1642.56" font-size="17.7" font-weight="bold" text-anchor="end" fill="#000">20</text>
<text x="54.7" y="1600.97" font-size="17.7" font-weight="bold" text-anchor="end" fill="#000">30</text>
<text x="54.7" y="1559.38" font-size="17.7" font-weight="bold" text-anchor="end" fill="#000">40</text>
<text x="54.7" y="1517.79" font-size="17.7" font-weight="bold" text-anchor="end" fill="#000">50</text>
<text x="54.7" y="1476.2" font-size="17.7" font-weight="bold" text-anchor="end" fill="#000">60</text>
<text x="54.7" y="1434.61" font-size="17.7" font-weight="bold" text-anchor="end" fill="#000">70</text>
<text x="54.7" y="1393.03" font-size="17.7" font-weight="bold" text-anchor="end" fill="#000">80</text>
<text x="54.7" y="1351.44" font-size="17.7" font-weight="bold" text-anchor="end" fill="#000">90</text>
<text x="92.44" y="1727.5" font-size="17.7" font-weight="bold" text-anchor="end" fill="#000" transform="rotate(-90 92.44 1727.5)">1982</text>
<text x="139.98" y="1727.5" font-size="17.7" font-weight="bold" text-anchor="end" fill="#000" transform="rotate(-90 139.98 1727.5)">1984</text>
<text x="187.52" y="1727.5" font-size="17.7" font-weight="bold" text-anchor="end" fill="#000" transform="rotate(-90 187.52 1727.5)">1986</text>
<text x="235.06" y="1727.5" font-size="17.7" font-weight="bold" text-anchor="end" fill="#000" transform="rotate(-90 235.06 1727.5)">1988</text>
<text x="282.61" y="1727.5" font-size="17.7" font-weight="bold" text-anchor="end" fill="#000" transform="rotate(-90 282.61 1727.5)">1990</text>
<text x="330.15" y="1727.5" font-size="17.7" font-weight="bold" text-anchor="end" fill="#000" transform="rotate(-90 330.15 1727.5)">1992</text>
<text x="377.69" y="1727.5" font-size="17.7" font-weight="bold" text-anchor="end" fill="#000" transform="rotate(-90 377.69 1727.5)">1994</text>
<text x="425.23" y="1727.5" font-size="17.7" font-weight="bold" text-anchor="end" fill="#000" transform="rotate(-90 425.23 1727.5)">1996</text>
<text x="472.77" y="1727.5" font-size="17.7" font-weight="bold" text-anchor="end" fill="#000" transform="rotate(-90 472.77 1727.5)">1998</text>
<text x="520.32" y="1727.5" font-size="17.7" font-weight="bold" text-anchor="end" fill="#000" transform="rotate(-90 520.32 1727.5)">2000</text>
<text x="567.86" y="1727.5" font-size="17.7" font-weight="bold" text-anchor="end" fill="#000" transform="rotate(-90 567.86 1727.5)">2002</text>
<text x="615.4" y="1727.5" font-size="17.7" font-weight="bold" text-anchor="end" fill="#000" transform="rotate(-90 615.4 1727.5)">2004</text>
<text x="662.94" y="1727.5" font-size="17.7" font-weight="bold" text-anchor="end" fill="#000" transform="rotate(-90 662.94 1727.5)">2006</text>
<text x="710.48" y="1727.5" font-size="17.7" font-weight="bold" text-anchor="end" fill="#000" transform="rotate(-90 710.48 1727.5)">2008</text>
<text x="758.03" y="1727.5" font-size="17.7" font-weight="bold" text-anchor="end" fill="#000" transform="rotate(-90 758.03 1727.5)">2010</text>
<text x="805.57" y="1727.5" font-size="17.7" font-weight="bold" text-anchor="end" fill="#000" transform="rotate(-90 805.57 1727.5)">2012</text>
<text x="853.11" y="1727.5" font-size="17.7" font-weight="bold" text-anchor="end" fill="#000" transform="rotate(-90 853.11 1727.5)">2014</text>
<text x="900.65" y="1727.5" font-size="17.7" font-weight="bold" text-anchor="end" fill="#000" transform="rotate(-90 900.65 1727.5)">2016</text>
<text x="948.19" y="1727.5" font-size="17.7" font-weight="bold" text-anchor="end" fill="#000" transform="rotate(-90 948.19 1727.5)">2018</text>
<text x="995.74" y="1727.5" font-size="17.7" font-weight="bold" text-anchor="end" fill="#000" transform="rotate(-90 995.74 1727.5)">2020</text>
<text x="24.5" y="1532.45" font-size="19.4" font-weight="bold" text-anchor="middle" fill="#000" transform="rotate(-90 24.5 1532.45)">[<tspan font-size="15.5" dy="-9.2">o</tspan><tspan dy="9.2" dx="0.4">C</tspan><tspan dx="1.6"> Days]</tspan></text>
<text x="107.5" y="1369.4" font-size="24.8" font-weight="bold" text-anchor="start" fill="#000">MHW Cumulative Intensity</text>
<text x="0.4" y="1353" font-size="26.4" font-weight="bold" text-anchor="start" fill="#000" stroke="#000" stroke-width="0.5" stroke-linejoin="round">D</text>
<rect x="484.3" y="1359.5" width="106.15" height="71.9" fill="#fff" stroke="#333333" stroke-width="1.1"/>
<rect x="489.3" y="1364.77" width="54.44" height="16.2" fill="#0072BD" stroke="#0a2a4a" stroke-width="0.9"/>
<text x="548.2" y="1379.27" font-size="17.37" font-weight="bold" text-anchor="start" fill="#000">NBS</text>
<rect x="489.3" y="1387.78" width="54.44" height="16.2" fill="#FF0000" stroke="#4a0808" stroke-width="0.9"/>
<text x="548.2" y="1402.28" font-size="17.37" font-weight="bold" text-anchor="start" fill="#000">SBS</text>
<path d="M489.3 1418.39H543.74" stroke="#0E7E12" stroke-width="2.7"/>
<text x="548.2" y="1424.79" font-size="17.37" font-weight="bold" text-anchor="start" fill="#000">BS</text>
</g>
<g>
<rect x="1144.2" y="11.4" width="369.6" height="368.7" fill="#fff"/>
<path d="M1236.5 11.4V380.1M1329.5 11.4V380.1M1421.5 11.4V380.1M1144.2 306.5H1513.8M1144.2 232.5H1513.8M1144.2 158.5H1513.8M1144.2 85.5H1513.8" stroke="#dedede" stroke-width="1" fill="none"/>
<path d="M1191.09 349.87L1276.79 73.71" stroke="#0000f0" stroke-width="2.6" fill="none"/>
<path d="M1327.61 352.82L1456.97 89.56" stroke="#f20000" stroke-width="2.6" fill="none"/>
<g fill="#0000f0"><circle cx="1190.86" cy="303.41" r="5.3"/><circle cx="1230.13" cy="233.73" r="5.3"/><circle cx="1240.3" cy="219.72" r="5.3"/><circle cx="1224.13" cy="245.16" r="5.3"/><circle cx="1222.74" cy="255.85" r="5.3"/><circle cx="1205.65" cy="294.19" r="5.3"/><circle cx="1205.18" cy="297.14" r="5.3"/><circle cx="1205.65" cy="292.35" r="5.3"/><circle cx="1231.06" cy="194.64" r="5.3"/><circle cx="1224.13" cy="263.22" r="5.3"/><circle cx="1227.36" cy="253.27" r="5.3"/><circle cx="1213.5" cy="270.6" r="5.3"/><circle cx="1220.43" cy="282.03" r="5.3"/><circle cx="1238.45" cy="239.26" r="5.3"/><circle cx="1216.27" cy="246.26" r="5.3"/><circle cx="1204.26" cy="295.67" r="5.3"/><circle cx="1207.96" cy="291.24" r="5.3"/><circle cx="1215.81" cy="274.28" r="5.3"/><circle cx="1231.98" cy="201.28" r="5.3"/><circle cx="1239.83" cy="228.93" r="5.3"/><circle cx="1222.74" cy="240.36" r="5.3"/><circle cx="1206.57" cy="262.85" r="5.3"/><circle cx="1219.97" cy="278.71" r="5.3"/><circle cx="1227.36" cy="258.8" r="5.3"/><circle cx="1241.22" cy="147.82" r="5.3"/><circle cx="1248.15" cy="160.35" r="5.3"/><circle cx="1237.52" cy="244.79" r="5.3"/><circle cx="1225.51" cy="251.06" r="5.3"/><circle cx="1231.06" cy="241.84" r="5.3"/><circle cx="1240.76" cy="199.07" r="5.3"/><circle cx="1261.78" cy="76.29" r="5.3"/><circle cx="1264.78" cy="71.5" r="5.3"/><circle cx="1231.98" cy="195.75" r="5.3"/><circle cx="1251.38" cy="131.23" r="5.3"/><circle cx="1277.26" cy="50.85" r="5.3"/><circle cx="1231.98" cy="222.67" r="5.3"/><circle cx="1241.68" cy="216.4" r="5.3"/><circle cx="1215.81" cy="294.19" r="5.3"/><circle cx="1244.45" cy="198.33" r="5.3"/></g>
<g fill="#f60008"><circle cx="1326.69" cy="303.04" r="5.3"/><circle cx="1374.74" cy="268.38" r="5.3"/><circle cx="1382.13" cy="253.27" r="5.3"/><circle cx="1359.49" cy="297.88" r="5.3"/><circle cx="1362.26" cy="294.56" r="5.3"/><circle cx="1339.16" cy="303.04" r="5.3"/><circle cx="1355.8" cy="305.99" r="5.3"/><circle cx="1381.21" cy="276.5" r="5.3"/><circle cx="1389.52" cy="259.9" r="5.3"/><circle cx="1375.66" cy="297.14" r="5.3"/><circle cx="1376.12" cy="249.95" r="5.3"/><circle cx="1387.21" cy="280.55" r="5.3"/><circle cx="1352.1" cy="297.51" r="5.3"/><circle cx="1386.29" cy="258.43" r="5.3"/><circle cx="1350.25" cy="299.72" r="5.3"/><circle cx="1337.78" cy="301.2" r="5.3"/><circle cx="1335.01" cy="292.35" r="5.3"/><circle cx="1351.18" cy="283.87" r="5.3"/><circle cx="1394.6" cy="275.76" r="5.3"/><circle cx="1391.37" cy="261.38" r="5.3"/><circle cx="1356.72" cy="284.61" r="5.3"/><circle cx="1358.11" cy="287.19" r="5.3"/><circle cx="1384.44" cy="241.1" r="5.3"/><circle cx="1395.53" cy="227.83" r="5.3"/><circle cx="1388.14" cy="224.14" r="5.3"/><circle cx="1413.08" cy="153.72" r="5.3"/><circle cx="1396.45" cy="222.3" r="5.3"/><circle cx="1369.66" cy="279.81" r="5.3"/><circle cx="1372.89" cy="286.45" r="5.3"/><circle cx="1402" cy="208.29" r="5.3"/><circle cx="1422.32" cy="124.22" r="5.3"/><circle cx="1436.18" cy="148.56" r="5.3"/><circle cx="1393.68" cy="263.96" r="5.3"/><circle cx="1421.4" cy="114.27" r="5.3"/><circle cx="1456.97" cy="46.06" r="5.3"/><circle cx="1414.47" cy="142.66" r="5.3"/><circle cx="1416.32" cy="141.92" r="5.3"/><circle cx="1382.13" cy="252.9" r="5.3"/><circle cx="1417.7" cy="134.91" r="5.3"/></g>
<path d="M1236.5 380.1v-3.7M1236.5 11.4v3.7M1329.5 380.1v-3.7M1329.5 11.4v3.7M1421.5 380.1v-3.7M1421.5 11.4v3.7M1144.2 306.5h3.7M1513.8 306.5h-3.7M1144.2 232.5h3.7M1513.8 232.5h-3.7M1144.2 158.5h3.7M1513.8 158.5h-3.7M1144.2 85.5h3.7M1513.8 85.5h-3.7" stroke="#333333" stroke-width="1" fill="none"/>
<rect x="1144.5" y="11.5" width="369" height="369" fill="none" stroke="#333333" stroke-width="1.25"/>
<text x="1136.4" y="386.8" font-size="19" font-weight="bold" text-anchor="end" fill="#000">-2</text>
<text x="1136.4" y="313.06" font-size="19" font-weight="bold" text-anchor="end" fill="#000">0</text>
<text x="1136.4" y="239.32" font-size="19" font-weight="bold" text-anchor="end" fill="#000">2</text>
<text x="1136.4" y="165.58" font-size="19" font-weight="bold" text-anchor="end" fill="#000">4</text>
<text x="1136.4" y="91.84" font-size="19" font-weight="bold" text-anchor="end" fill="#000">6</text>
<text x="1136.4" y="18.1" font-size="19" font-weight="bold" text-anchor="end" fill="#000">8</text>
<text x="1144.7" y="409.1" font-size="19" font-weight="bold" text-anchor="middle" fill="#000">-2</text>
<text x="1237.1" y="409.1" font-size="19" font-weight="bold" text-anchor="middle" fill="#000">0</text>
<text x="1329.5" y="409.1" font-size="19" font-weight="bold" text-anchor="middle" fill="#000">2</text>
<text x="1421.9" y="409.1" font-size="19" font-weight="bold" text-anchor="middle" fill="#000">4</text>
<text x="1514.3" y="409.1" font-size="19" font-weight="bold" text-anchor="middle" fill="#000">6</text>
<text x="1327.5" y="438.1" font-size="21.6" font-weight="bold" text-anchor="middle" fill="#000">Annual mean SST [°C]</text>
<text x="1108.5" y="195.75" font-size="21.8" font-weight="bold" text-anchor="middle" fill="#000" transform="rotate(-90 1108.5 195.75)">MHW Frequency [event]</text>
<text x="1151.4" y="374.5" font-size="21.35" font-weight="bold" text-anchor="start" fill="#0000f0">R-NBS=0.92</text>
<text x="1507.6" y="374.5" font-size="21.35" font-weight="bold" text-anchor="end" fill="#f20000">R-SBS=0.90</text>
<text x="1076.5" y="21.2" font-size="26.4" font-weight="bold" text-anchor="start" fill="#000" stroke="#000" stroke-width="0.5" stroke-linejoin="round">E</text>
</g>
<g>
<rect x="1148.7" y="453.5" width="370.2" height="369.5" fill="#fff"/>
<path d="M1241.5 453.5V823M1333.5 453.5V823M1426.5 453.5V823M1148.7 761.5H1518.9M1148.7 699.5H1518.9M1148.7 638.5H1518.9M1148.7 576.5H1518.9M1148.7 515.5H1518.9" stroke="#dedede" stroke-width="1" fill="none"/>
<path d="M1195.9 799.48L1281.97 635.29" stroke="#0000f0" stroke-width="2.6" fill="none"/>
<path d="M1333.34 807.6L1461.98 621.75" stroke="#f20000" stroke-width="2.6" fill="none"/>
<g fill="#0000f0"><circle cx="1195.44" cy="761.05" r="5.3"/><circle cx="1234.77" cy="733.83" r="5.3"/><circle cx="1244.95" cy="730.26" r="5.3"/><circle cx="1228.76" cy="736.29" r="5.3"/><circle cx="1227.37" cy="744.54" r="5.3"/><circle cx="1210.25" cy="758.21" r="5.3"/><circle cx="1209.78" cy="759.45" r="5.3"/><circle cx="1210.25" cy="754.15" r="5.3"/><circle cx="1235.7" cy="716.95" r="5.3"/><circle cx="1228.76" cy="750.21" r="5.3"/><circle cx="1232" cy="745.65" r="5.3"/><circle cx="1218.11" cy="751.32" r="5.3"/><circle cx="1225.05" cy="748.36" r="5.3"/><circle cx="1243.1" cy="725.82" r="5.3"/><circle cx="1220.89" cy="736.41" r="5.3"/><circle cx="1208.86" cy="758.71" r="5.3"/><circle cx="1212.56" cy="758.71" r="5.3"/><circle cx="1220.43" cy="751.32" r="5.3"/><circle cx="1236.62" cy="730.75" r="5.3"/><circle cx="1244.49" cy="741.59" r="5.3"/><circle cx="1227.37" cy="739.86" r="5.3"/><circle cx="1211.17" cy="745.04" r="5.3"/><circle cx="1224.59" cy="753.66" r="5.3"/><circle cx="1232" cy="749.59" r="5.3"/><circle cx="1245.88" cy="697.37" r="5.3"/><circle cx="1252.82" cy="712.27" r="5.3"/><circle cx="1242.18" cy="739.37" r="5.3"/><circle cx="1230.14" cy="743.06" r="5.3"/><circle cx="1235.7" cy="739.37" r="5.3"/><circle cx="1245.41" cy="718.43" r="5.3"/><circle cx="1266.47" cy="657.09" r="5.3"/><circle cx="1269.48" cy="636.77" r="5.3"/><circle cx="1236.62" cy="704.39" r="5.3"/><circle cx="1256.06" cy="682.22" r="5.3"/><circle cx="1281.97" cy="552.77" r="5.3"/><circle cx="1236.62" cy="723.11" r="5.3"/><circle cx="1246.34" cy="727.18" r="5.3"/><circle cx="1220.43" cy="758.58" r="5.3"/><circle cx="1249.12" cy="674.21" r="5.3"/></g>
<g fill="#f60008"><circle cx="1331.49" cy="761.42" r="5.3"/><circle cx="1379.61" cy="752.67" r="5.3"/><circle cx="1387.02" cy="744.54" r="5.3"/><circle cx="1364.34" cy="759.45" r="5.3"/><circle cx="1367.12" cy="758.21" r="5.3"/><circle cx="1343.98" cy="760.8" r="5.3"/><circle cx="1360.64" cy="761.42" r="5.3"/><circle cx="1386.09" cy="752.67" r="5.3"/><circle cx="1394.42" cy="745.16" r="5.3"/><circle cx="1380.54" cy="759.2" r="5.3"/><circle cx="1381" cy="741.96" r="5.3"/><circle cx="1392.11" cy="754.64" r="5.3"/><circle cx="1356.94" cy="759.2" r="5.3"/><circle cx="1391.18" cy="728.16" r="5.3"/><circle cx="1355.09" cy="759.2" r="5.3"/><circle cx="1342.59" cy="760.8" r="5.3"/><circle cx="1339.82" cy="758.71" r="5.3"/><circle cx="1356.01" cy="754.64" r="5.3"/><circle cx="1399.51" cy="754.15" r="5.3"/><circle cx="1396.27" cy="748.85" r="5.3"/><circle cx="1361.57" cy="756" r="5.3"/><circle cx="1362.95" cy="756" r="5.3"/><circle cx="1389.33" cy="736.17" r="5.3"/><circle cx="1400.44" cy="730.87" r="5.3"/><circle cx="1393.03" cy="734.07" r="5.3"/><circle cx="1418.02" cy="709.69" r="5.3"/><circle cx="1401.36" cy="721.02" r="5.3"/><circle cx="1374.52" cy="754.4" r="5.3"/><circle cx="1377.76" cy="756.98" r="5.3"/><circle cx="1406.91" cy="721.02" r="5.3"/><circle cx="1427.28" cy="662.51" r="5.3"/><circle cx="1441.16" cy="620.02" r="5.3"/><circle cx="1398.59" cy="749.72" r="5.3"/><circle cx="1426.35" cy="677.66" r="5.3"/><circle cx="1461.98" cy="494.02" r="5.3"/><circle cx="1419.41" cy="683.94" r="5.3"/><circle cx="1421.26" cy="691.83" r="5.3"/><circle cx="1387.02" cy="746.14" r="5.3"/><circle cx="1422.65" cy="647.24" r="5.3"/></g>
<path d="M1241.5 823v-3.7M1241.5 453.5v3.7M1333.5 823v-3.7M1333.5 453.5v3.7M1426.5 823v-3.7M1426.5 453.5v3.7M1148.7 761.5h3.7M1518.9 761.5h-3.7M1148.7 699.5h3.7M1518.9 699.5h-3.7M1148.7 638.5h3.7M1518.9 638.5h-3.7M1148.7 576.5h3.7M1518.9 576.5h-3.7M1148.7 515.5h3.7M1518.9 515.5h-3.7" stroke="#333333" stroke-width="1" fill="none"/>
<rect x="1148.5" y="453.5" width="370" height="370" fill="none" stroke="#333333" stroke-width="1.25"/>
<text x="1140.9" y="829.7" font-size="19" font-weight="bold" text-anchor="end" fill="#000">-50</text>
<text x="1140.9" y="768.12" font-size="19" font-weight="bold" text-anchor="end" fill="#000">0</text>
<text x="1140.9" y="706.54" font-size="19" font-weight="bold" text-anchor="end" fill="#000">50</text>
<text x="1140.9" y="644.95" font-size="19" font-weight="bold" text-anchor="end" fill="#000">100</text>
<text x="1140.9" y="583.37" font-size="19" font-weight="bold" text-anchor="end" fill="#000">150</text>
<text x="1140.9" y="521.79" font-size="19" font-weight="bold" text-anchor="end" fill="#000">200</text>
<text x="1140.9" y="460.2" font-size="19" font-weight="bold" text-anchor="end" fill="#000">250</text>
<text x="1149.2" y="852" font-size="19" font-weight="bold" text-anchor="middle" fill="#000">-2</text>
<text x="1241.75" y="852" font-size="19" font-weight="bold" text-anchor="middle" fill="#000">0</text>
<text x="1334.3" y="852" font-size="19" font-weight="bold" text-anchor="middle" fill="#000">2</text>
<text x="1426.85" y="852" font-size="19" font-weight="bold" text-anchor="middle" fill="#000">4</text>
<text x="1519.4" y="852" font-size="19" font-weight="bold" text-anchor="middle" fill="#000">6</text>
<text x="1332.3" y="880.9" font-size="21.6" font-weight="bold" text-anchor="middle" fill="#000">Annual mean SST [°C]</text>
<text x="1096.5" y="638.25" font-size="21.8" font-weight="bold" text-anchor="middle" fill="#000" transform="rotate(-90 1096.5 638.25)">MHW Days [Days]</text>
<text x="1155.9" y="817.9" font-size="21.35" font-weight="bold" text-anchor="start" fill="#0000f0">R-NBS=0.85</text>
<text x="1511.3" y="817.9" font-size="21.35" font-weight="bold" text-anchor="end" fill="#f20000">R-SBS=0.81</text>
<text x="1076.5" y="464.5" font-size="26.4" font-weight="bold" text-anchor="start" fill="#000" stroke="#000" stroke-width="0.5" stroke-linejoin="round">F</text>
</g>
<g>
<rect x="1147.8" y="898.6" width="368.7" height="368.1" fill="#fff"/>
<path d="M1239.5 898.6V1266.7M1332.5 898.6V1266.7M1424.5 898.6V1266.7M1147.8 1174.5H1516.5M1147.8 1082.5H1516.5M1147.8 990.5H1516.5" stroke="#dedede" stroke-width="1" fill="none"/>
<path d="M1194.81 1215.81L1280.53 1090.47" stroke="#0000f0" stroke-width="2.6" fill="none"/>
<path d="M1331.23 1237.71L1459.35 1056.88" stroke="#f20000" stroke-width="2.6" fill="none"/>
<g fill="#0000f0"><circle cx="1194.35" cy="1199.52" r="5.3"/><circle cx="1233.52" cy="1161.79" r="5.3"/><circle cx="1243.66" cy="1159.03" r="5.3"/><circle cx="1227.53" cy="1162.71" r="5.3"/><circle cx="1226.15" cy="1170.07" r="5.3"/><circle cx="1209.1" cy="1182.04" r="5.3"/><circle cx="1208.64" cy="1196.76" r="5.3"/><circle cx="1209.1" cy="1164.55" r="5.3"/><circle cx="1234.44" cy="1162.71" r="5.3"/><circle cx="1227.53" cy="1188.48" r="5.3"/><circle cx="1230.76" cy="1188.48" r="5.3"/><circle cx="1216.93" cy="1194.92" r="5.3"/><circle cx="1223.84" cy="1106.12" r="5.3"/><circle cx="1241.82" cy="1124.06" r="5.3"/><circle cx="1219.7" cy="1166.39" r="5.3"/><circle cx="1207.71" cy="1197.22" r="5.3"/><circle cx="1211.4" cy="1203.2" r="5.3"/><circle cx="1219.24" cy="1189.4" r="5.3"/><circle cx="1235.37" cy="1184.8" r="5.3"/><circle cx="1243.2" cy="1194.46" r="5.3"/><circle cx="1226.15" cy="1176.06" r="5.3"/><circle cx="1210.02" cy="1169.61" r="5.3"/><circle cx="1223.38" cy="1184.34" r="5.3"/><circle cx="1230.76" cy="1198.6" r="5.3"/><circle cx="1244.58" cy="1163.63" r="5.3"/><circle cx="1251.5" cy="1177.44" r="5.3"/><circle cx="1240.9" cy="1170.99" r="5.3"/><circle cx="1228.91" cy="1182.04" r="5.3"/><circle cx="1234.44" cy="1178.36" r="5.3"/><circle cx="1244.12" cy="1136.94" r="5.3"/><circle cx="1265.09" cy="1141.55" r="5.3"/><circle cx="1268.09" cy="1109.34" r="5.3"/><circle cx="1235.37" cy="1113.94" r="5.3"/><circle cx="1254.72" cy="1137.87" r="5.3"/><circle cx="1280.53" cy="1027.43" r="5.3"/><circle cx="1235.37" cy="1130.5" r="5.3"/><circle cx="1245.04" cy="1159.95" r="5.3"/><circle cx="1219.24" cy="1202.28" r="5.3"/><circle cx="1247.81" cy="1021.91" r="5.3"/></g>
<g fill="#f60008"><circle cx="1329.85" cy="1203.2" r="5.3"/><circle cx="1377.78" cy="1192.16" r="5.3"/><circle cx="1385.15" cy="1185.72" r="5.3"/><circle cx="1362.57" cy="1208.72" r="5.3"/><circle cx="1365.33" cy="1198.6" r="5.3"/><circle cx="1342.29" cy="1137.87" r="5.3"/><circle cx="1358.88" cy="1206.88" r="5.3"/><circle cx="1384.23" cy="1202.28" r="5.3"/><circle cx="1392.52" cy="1168.23" r="5.3"/><circle cx="1378.7" cy="1204.12" r="5.3"/><circle cx="1379.16" cy="1170.99" r="5.3"/><circle cx="1390.22" cy="1190.78" r="5.3"/><circle cx="1355.19" cy="1195.84" r="5.3"/><circle cx="1389.3" cy="1078.97" r="5.3"/><circle cx="1353.35" cy="1169.15" r="5.3"/><circle cx="1340.91" cy="1191.24" r="5.3"/><circle cx="1338.14" cy="1198.6" r="5.3"/><circle cx="1354.27" cy="1195.84" r="5.3"/><circle cx="1397.59" cy="1195.84" r="5.3"/><circle cx="1394.37" cy="1185.72" r="5.3"/><circle cx="1359.8" cy="1195.84" r="5.3"/><circle cx="1361.19" cy="1182.96" r="5.3"/><circle cx="1387.45" cy="1167.31" r="5.3"/><circle cx="1398.52" cy="1164.55" r="5.3"/><circle cx="1391.14" cy="1175.6" r="5.3"/><circle cx="1416.03" cy="1169.61" r="5.3"/><circle cx="1399.44" cy="1118.54" r="5.3"/><circle cx="1372.71" cy="1194.46" r="5.3"/><circle cx="1375.93" cy="1199.06" r="5.3"/><circle cx="1404.97" cy="1142.47" r="5.3"/><circle cx="1425.25" cy="1105.66" r="5.3"/><circle cx="1439.07" cy="978.66" r="5.3"/><circle cx="1396.67" cy="1190.78" r="5.3"/><circle cx="1424.33" cy="1145.23" r="5.3"/><circle cx="1459.81" cy="940.93" r="5.3"/><circle cx="1417.41" cy="1128.66" r="5.3"/><circle cx="1419.26" cy="1151.67" r="5.3"/><circle cx="1385.15" cy="1188.94" r="5.3"/><circle cx="1420.64" cy="1083.57" r="5.3"/></g>
<path d="M1239.5 1266.7v-3.7M1239.5 898.6v3.7M1332.5 1266.7v-3.7M1332.5 898.6v3.7M1424.5 1266.7v-3.7M1424.5 898.6v3.7M1147.8 1174.5h3.7M1516.5 1174.5h-3.7M1147.8 1082.5h3.7M1516.5 1082.5h-3.7M1147.8 990.5h3.7M1516.5 990.5h-3.7" stroke="#333333" stroke-width="1" fill="none"/>
<rect x="1147.5" y="898.5" width="369" height="368" fill="none" stroke="#333333" stroke-width="1.25"/>
<text x="1139.3" y="1273.4" font-size="19" font-weight="bold" text-anchor="end" fill="#000">0</text>
<text x="1139.3" y="1181.38" font-size="19" font-weight="bold" text-anchor="end" fill="#000">10</text>
<text x="1139.3" y="1089.35" font-size="19" font-weight="bold" text-anchor="end" fill="#000">20</text>
<text x="1139.3" y="997.33" font-size="19" font-weight="bold" text-anchor="end" fill="#000">30</text>
<text x="1139.3" y="905.3" font-size="19" font-weight="bold" text-anchor="end" fill="#000">40</text>
<text x="1148.3" y="1295.7" font-size="19" font-weight="bold" text-anchor="middle" fill="#000">-2</text>
<text x="1240.47" y="1295.7" font-size="19" font-weight="bold" text-anchor="middle" fill="#000">0</text>
<text x="1332.65" y="1295.7" font-size="19" font-weight="bold" text-anchor="middle" fill="#000">2</text>
<text x="1424.83" y="1295.7" font-size="19" font-weight="bold" text-anchor="middle" fill="#000">4</text>
<text x="1517" y="1295.7" font-size="19" font-weight="bold" text-anchor="middle" fill="#000">6</text>
<text x="1330.65" y="1325" font-size="21.6" font-weight="bold" text-anchor="middle" fill="#000">Annual mean SST [°C]</text>
<text x="1107" y="1082.65" font-size="21.8" font-weight="bold" text-anchor="middle" fill="#000" transform="rotate(-90 1107 1082.65)">MHW Duration [Days]</text>
<text x="1154.5" y="1261.2" font-size="21.35" font-weight="bold" text-anchor="start" fill="#0000f0">R-NBS=0.64</text>
<text x="1508.8" y="1261.2" font-size="21.35" font-weight="bold" text-anchor="end" fill="#f20000">R-SBS=0.71</text>
<text x="1076.6" y="908.1" font-size="26.4" font-weight="bold" text-anchor="start" fill="#000" stroke="#000" stroke-width="0.5" stroke-linejoin="round">G</text>
</g>
<g>
<rect x="1151.7" y="1341.3" width="367.2" height="366.3" fill="#fff"/>
<path d="M1243.5 1341.3V1707.6M1335.5 1341.3V1707.6M1427.5 1341.3V1707.6M1151.7 1646.5H1518.9M1151.7 1585.5H1518.9M1151.7 1524.5H1518.9M1151.7 1463.5H1518.9M1151.7 1402.5H1518.9" stroke="#dedede" stroke-width="1" fill="none"/>
<path d="M1198.06 1638.92L1283.43 1542.46" stroke="#0000f0" stroke-width="2.6" fill="none"/>
<path d="M1333.92 1656.01L1461.98 1486.9" stroke="#f20000" stroke-width="2.6" fill="none"/>
<g fill="#0000f0"><circle cx="1198.06" cy="1622.13" r="5.3"/><circle cx="1237.07" cy="1569.17" r="5.3"/><circle cx="1247.17" cy="1559.25" r="5.3"/><circle cx="1231.11" cy="1593.74" r="5.3"/><circle cx="1229.73" cy="1590.38" r="5.3"/><circle cx="1212.75" cy="1618.47" r="5.3"/><circle cx="1212.29" cy="1615.41" r="5.3"/><circle cx="1212.75" cy="1620.91" r="5.3"/><circle cx="1237.99" cy="1604.12" r="5.3"/><circle cx="1231.11" cy="1619.99" r="5.3"/><circle cx="1234.32" cy="1617.25" r="5.3"/><circle cx="1220.55" cy="1620.6" r="5.3"/><circle cx="1227.43" cy="1548.87" r="5.3"/><circle cx="1245.34" cy="1587.64" r="5.3"/><circle cx="1223.3" cy="1609.31" r="5.3"/><circle cx="1211.37" cy="1628.39" r="5.3"/><circle cx="1215.04" cy="1615.41" r="5.3"/><circle cx="1222.85" cy="1615.87" r="5.3"/><circle cx="1238.91" cy="1614.8" r="5.3"/><circle cx="1246.71" cy="1615.26" r="5.3"/><circle cx="1229.73" cy="1613.89" r="5.3"/><circle cx="1213.66" cy="1616.33" r="5.3"/><circle cx="1226.98" cy="1615.72" r="5.3"/><circle cx="1234.32" cy="1626.4" r="5.3"/><circle cx="1248.09" cy="1613.58" r="5.3"/><circle cx="1254.98" cy="1609" r="5.3"/><circle cx="1244.42" cy="1615.11" r="5.3"/><circle cx="1232.48" cy="1616.33" r="5.3"/><circle cx="1237.99" cy="1607.78" r="5.3"/><circle cx="1247.63" cy="1573.29" r="5.3"/><circle cx="1268.52" cy="1589.77" r="5.3"/><circle cx="1271.5" cy="1562.3" r="5.3"/><circle cx="1238.91" cy="1593.44" r="5.3"/><circle cx="1258.19" cy="1583.06" r="5.3"/><circle cx="1283.89" cy="1499.11" r="5.3"/><circle cx="1238.91" cy="1597.71" r="5.3"/><circle cx="1248.55" cy="1583.67" r="5.3"/><circle cx="1222.85" cy="1608.09" r="5.3"/><circle cx="1251.3" cy="1459.74" r="5.3"/></g>
<g fill="#f60008"><circle cx="1333.01" cy="1619.99" r="5.3"/><circle cx="1380.74" cy="1608.39" r="5.3"/><circle cx="1388.09" cy="1585.5" r="5.3"/><circle cx="1365.59" cy="1617.55" r="5.3"/><circle cx="1368.35" cy="1607.17" r="5.3"/><circle cx="1345.4" cy="1603.81" r="5.3"/><circle cx="1361.92" cy="1616.02" r="5.3"/><circle cx="1387.17" cy="1611.75" r="5.3"/><circle cx="1395.43" cy="1591.61" r="5.3"/><circle cx="1381.66" cy="1620.91" r="5.3"/><circle cx="1382.12" cy="1601.98" r="5.3"/><circle cx="1393.13" cy="1595.57" r="5.3"/><circle cx="1358.25" cy="1617.86" r="5.3"/><circle cx="1392.22" cy="1563.83" r="5.3"/><circle cx="1356.41" cy="1613.89" r="5.3"/><circle cx="1344.02" cy="1620.45" r="5.3"/><circle cx="1341.27" cy="1612.06" r="5.3"/><circle cx="1357.33" cy="1616.18" r="5.3"/><circle cx="1400.48" cy="1607.78" r="5.3"/><circle cx="1397.27" cy="1600.46" r="5.3"/><circle cx="1362.84" cy="1615.87" r="5.3"/><circle cx="1364.22" cy="1589.77" r="5.3"/><circle cx="1390.38" cy="1585.81" r="5.3"/><circle cx="1401.4" cy="1592.83" r="5.3"/><circle cx="1394.05" cy="1604.12" r="5.3"/><circle cx="1418.84" cy="1588.55" r="5.3"/><circle cx="1402.31" cy="1566.27" r="5.3"/><circle cx="1375.69" cy="1611.75" r="5.3"/><circle cx="1378.91" cy="1599.24" r="5.3"/><circle cx="1407.82" cy="1570.7" r="5.3"/><circle cx="1428.02" cy="1558.03" r="5.3"/><circle cx="1441.79" cy="1395.94" r="5.3"/><circle cx="1399.56" cy="1608.7" r="5.3"/><circle cx="1427.1" cy="1569.63" r="5.3"/><circle cx="1462.44" cy="1383.73" r="5.3"/><circle cx="1420.22" cy="1566.57" r="5.3"/><circle cx="1422.05" cy="1565.96" r="5.3"/><circle cx="1388.09" cy="1599.54" r="5.3"/><circle cx="1423.43" cy="1501.25" r="5.3"/></g>
<path d="M1243.5 1707.6v-3.7M1243.5 1341.3v3.7M1335.5 1707.6v-3.7M1335.5 1341.3v3.7M1427.5 1707.6v-3.7M1427.5 1341.3v3.7M1151.7 1646.5h3.7M1518.9 1646.5h-3.7M1151.7 1585.5h3.7M1518.9 1585.5h-3.7M1151.7 1524.5h3.7M1518.9 1524.5h-3.7M1151.7 1463.5h3.7M1518.9 1463.5h-3.7M1151.7 1402.5h3.7M1518.9 1402.5h-3.7" stroke="#333333" stroke-width="1" fill="none"/>
<rect x="1151.5" y="1341.5" width="367" height="366" fill="none" stroke="#333333" stroke-width="1.25"/>
<text x="1143.9" y="1714.3" font-size="19" font-weight="bold" text-anchor="end" fill="#000">-20</text>
<text x="1143.9" y="1653.25" font-size="19" font-weight="bold" text-anchor="end" fill="#000">0</text>
<text x="1143.9" y="1592.2" font-size="19" font-weight="bold" text-anchor="end" fill="#000">20</text>
<text x="1143.9" y="1531.15" font-size="19" font-weight="bold" text-anchor="end" fill="#000">40</text>
<text x="1143.9" y="1470.1" font-size="19" font-weight="bold" text-anchor="end" fill="#000">60</text>
<text x="1143.9" y="1409.05" font-size="19" font-weight="bold" text-anchor="end" fill="#000">80</text>
<text x="1143.9" y="1348" font-size="19" font-weight="bold" text-anchor="end" fill="#000">100</text>
<text x="1152.2" y="1735.2" font-size="19" font-weight="bold" text-anchor="middle" fill="#000">-2</text>
<text x="1244" y="1735.2" font-size="19" font-weight="bold" text-anchor="middle" fill="#000">0</text>
<text x="1335.8" y="1735.2" font-size="19" font-weight="bold" text-anchor="middle" fill="#000">2</text>
<text x="1427.6" y="1735.2" font-size="19" font-weight="bold" text-anchor="middle" fill="#000">4</text>
<text x="1519.4" y="1735.2" font-size="19" font-weight="bold" text-anchor="middle" fill="#000">6</text>
<text x="1335.3" y="1764.3" font-size="21.6" font-weight="bold" text-anchor="middle" fill="#000">Annual mean SST [°C]</text>
<text x="1099" y="1525.75" font-size="21.8" font-weight="bold" text-anchor="middle" fill="#000" transform="rotate(-90 1099 1525.75)">MHW Cumulative Intensity [<tspan font-size="17" dy="-10.5">o</tspan><tspan dy="10.5">C Days]</tspan></text>
<text x="1158.9" y="1702.3" font-size="21.35" font-weight="bold" text-anchor="start" fill="#0000f0">R-NBS=0.59</text>
<text x="1512.6" y="1702.3" font-size="21.35" font-weight="bold" text-anchor="end" fill="#f20000">R-SBS=0.74</text>
<text x="1076" y="1324.5" font-size="26.4" font-weight="bold" text-anchor="start" fill="#000" stroke="#000" stroke-width="0.5" stroke-linejoin="round">H</text>
</g>
</svg>
</body>
</html>
